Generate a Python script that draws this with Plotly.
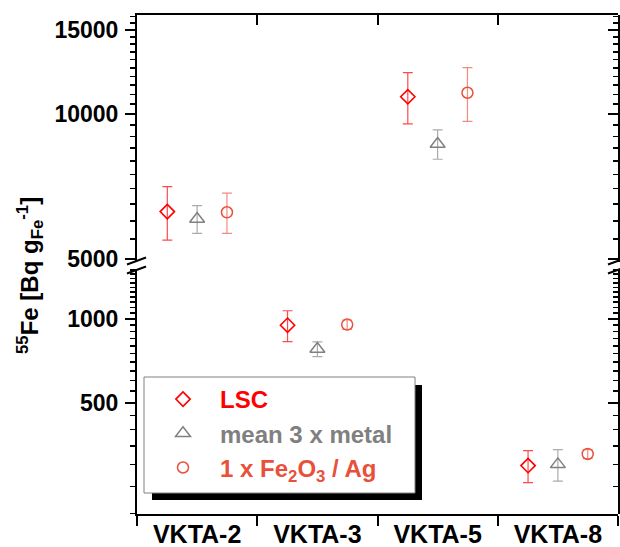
import plotly.graph_objects as go

# ---------------- data ----------------
categories = ["VKTA-2", "VKTA-3", "VKTA-5", "VKTA-8"]
lsc = [6270, 950, 10880, 297]
lsc_err = [800, 121, 1330, 39]
metal = [6050, 780, 8670, 300]
metal_err = [400, 48, 610, 39]
oxide = [6250, 955, 11090, 327]
oxide_err = [600, 37, 1420, 12]

series_names = ["LSC", "mean 3 x metal", "1 x Fe<sub>2</sub>O<sub>3</sub> / Ag"]
top_major = [5000, 10000, 15000]
bottom_major = [500, 1000]

# ---------------- style ----------------
FONT = "Liberation Sans, Arial, sans-serif"
W, H = 620, 547
L, R, T, B = 137, 2, 15, 33
PW, PH = W - L - R, H - T - B

def px_x(px):
    return (px - L) / PW

def px_y(py):
    return (H - B - py) / PH

top_range = [3.6923, 4.2069]
bot_range = [2.2986, 3.1799]
top_dom = [px_y(262), 1.0]
bot_dom = [0.0, px_y(269)]
split_value = 10 ** top_range[0]

styles = [
    dict(symbol="diamond-open", size=11, color="#FF0000", err="#FF4A4A", lw=1.6),
    dict(symbol="triangle-up-open", size=13, color="#808080", err="#ABABAB", lw=1.5),
    dict(symbol="circle-open", size=11, color="#E8503A", err="#F28C7E", lw=1.5),
]
text_colors = ["#FF0000", "#808080", "#E8503A"]

fig = go.Figure()

all_series = [(lsc, lsc_err), (metal, metal_err), (oxide, oxide_err)]
for k, ((vals, errs), st) in enumerate(zip(all_series, styles)):
    for panel, yax in (("top", "y"), ("bottom", "y2")):
        xs, ys, es = [], [], []
        for c, v, e in zip(categories, vals, errs):
            if (v >= split_value) == (panel == "top"):
                xs.append(c); ys.append(v); es.append(e)
        fig.add_trace(go.Scatter(
            x=xs, y=ys, mode="markers", xaxis="x", yaxis=yax,
            offsetgroup=str(k), legendgroup=str(k),
            showlegend=(panel == "top"),
            name=f'<b><span style="color:{text_colors[k]}">{series_names[k]}</span></b>',
            marker=dict(symbol=st["symbol"], size=st["size"], color=st["color"],
                        line=dict(width=st["lw"], color=st["color"])),
            error_y=dict(type="data", array=es, visible=True, color=st["err"],
                         thickness=1.2, width=5),
        ))

# empty helper traces so that the frame axes (top / right) get drawn
for yax in ("y", "y3", "y4"):
    fig.add_trace(go.Scatter(x=[None], y=[None], xaxis="x2", yaxis=yax,
                             mode="markers", showlegend=False, hoverinfo="skip"))

def minor_vals(lo, hi, step, majors):
    out = []
    v = step
    while v <= hi:
        if v >= lo and v not in majors:
            out.append(v)
        v += step
    return out

top_minor = minor_vals(10 ** top_range[0], 10 ** top_range[1], 500, top_major)
bot_minor = minor_vals(10 ** bot_range[0], 10 ** bot_range[1], 50, bottom_major)

tickfont = dict(family=FONT, size=23, color="black", weight="bold")

def yaxis_cfg(rng, dom, majors, minors, anchor="x", side="left", ticks="outside", labels=True):
    return dict(type="log", range=rng, domain=dom, anchor=anchor, side=side,
                tickmode="array", tickvals=majors, ticktext=[str(m) for m in majors],
                ticks=ticks, ticklen=10, tickwidth=2, tickcolor="black",
                showline=True, linecolor="black", linewidth=2,
                showgrid=False, zeroline=False, showticklabels=labels,
                tickfont=tickfont, ticklabelstandoff=2, automargin=False,
                fixedrange=True,
                minor=dict(tickmode="array", tickvals=minors, ticks=ticks, ticklen=5,
                           tickwidth=1.5, tickcolor="black", showgrid=False))

n = len(categories)
fig.update_layout(
    width=W, height=H,
    margin=dict(l=L, r=R, t=T, b=B, pad=0),
    paper_bgcolor="white", plot_bgcolor="rgba(0,0,0,0)",
    scattermode="group", scattergap=0.256,
    xaxis=dict(type="category", categoryorder="array", categoryarray=categories,
               range=[-0.5, n - 0.5], anchor="y2", domain=[0, 1],
               tickson="boundaries", ticks="outside", ticklen=10, tickwidth=2,
               tickcolor="black", showline=True, linecolor="black", linewidth=2,
               showgrid=False, zeroline=False, automargin=False,
               ticklabelstandoff=-3, fixedrange=True,
               tickfont=dict(family=FONT, size=25, color="black", weight="bold")),
    xaxis2=dict(type="linear", range=[-0.5, n - 0.5], anchor="y", domain=[0, 1],
                side="top", tickmode="array",
                tickvals=[i + 0.5 for i in range(n - 1)],
                ticks="inside", ticklen=10, tickwidth=2, tickcolor="black",
                showline=True, linecolor="black", linewidth=2, automargin=False,
                showticklabels=False, showgrid=False, zeroline=False, fixedrange=True),
    yaxis=yaxis_cfg(top_range, top_dom, top_major, top_minor),
    yaxis2=yaxis_cfg(bot_range, bot_dom, bottom_major, bot_minor),
    yaxis3=yaxis_cfg(top_range, top_dom, top_major, top_minor, anchor="x2",
                     side="right", ticks="inside", labels=False),
    yaxis4=yaxis_cfg(bot_range, bot_dom, bottom_major, bot_minor, anchor="x2",
                     side="right", ticks="inside", labels=False),
    showlegend=True,
    legend=dict(x=px_x(146), y=px_y(377), xanchor="left", yanchor="top",
                bgcolor="rgba(0,0,0,0)", borderwidth=0,
                font=dict(family=FONT, size=24, color="black"),
                itemwidth=64, tracegroupgap=0, itemclick=False),
)

# legend box with shadow
shapes = [
    dict(type="rect", xref="paper", yref="paper", x0=px_x(152), x1=px_x(422),
         y0=px_y(500), y1=px_y(385), fillcolor="black", line=dict(width=0)),
    dict(type="rect", xref="paper", yref="paper", x0=px_x(144), x1=px_x(415),
         y0=px_y(493), y1=px_y(377), fillcolor="white",
         line=dict(width=1, color="#808080")),
]
# axis break marks
for xa in (0, 1):
    for yb in (261, 270):
        shapes.append(dict(type="line", xref="paper", yref="paper",
                           xsizemode="pixel", xanchor=xa, x0=-10, x1=9,
                           ysizemode="pixel", yanchor=px_y(yb), y0=-3.5, y1=3.5,
                           line=dict(color="black", width=2)))
fig.update_layout(shapes=shapes)

fig.add_annotation(
    text="<b><sup>55</sup>Fe [Bq g<sub>Fe</sub><sup>-1</sup>]</b>",
    xref="paper", yref="paper", x=px_x(30), y=px_y(276),
    xanchor="center", yanchor="middle", textangle=-90, showarrow=False,
    font=dict(family=FONT, size=24, color="black"),
)

fig.write_html("out.html",
               config={"displayModeBar": False, "staticPlot": True},
               post_script="document.body.style.margin='0px';"
                           "document.body.style.overflow='hidden';")
